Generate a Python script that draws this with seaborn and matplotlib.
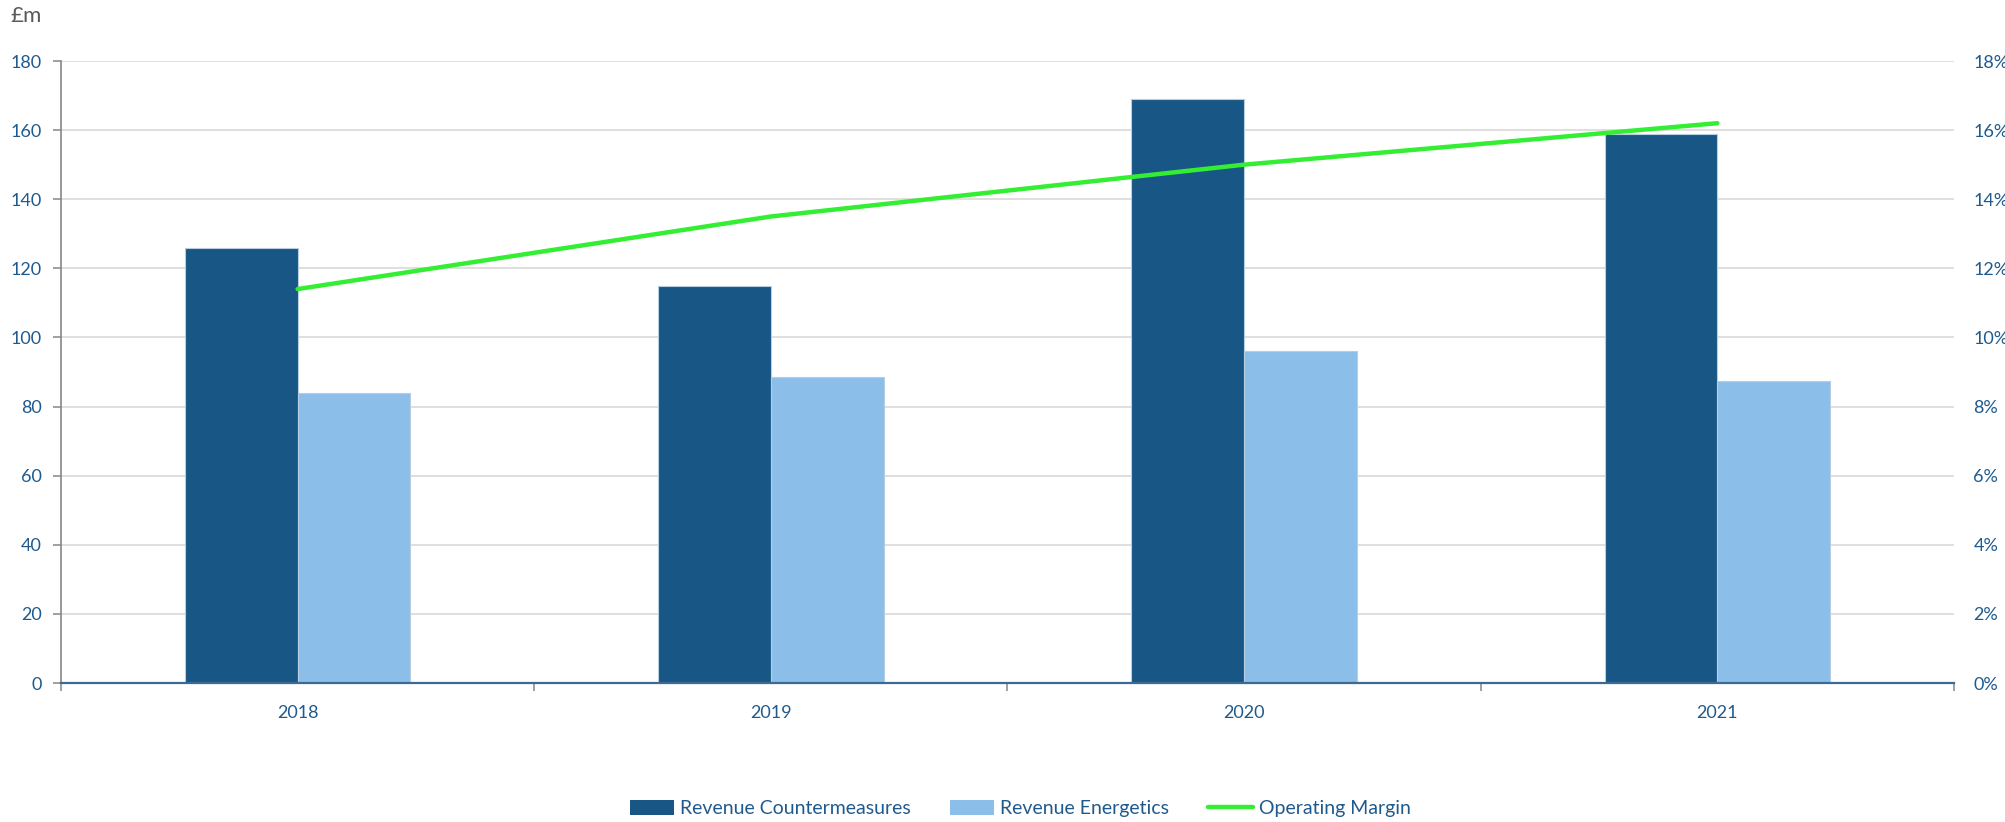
import numpy as np
import pandas as pd
import matplotlib
matplotlib.use('Agg')
import matplotlib.pyplot as plt
import seaborn as sns
from matplotlib.ticker import FixedLocator, FuncFormatter
from matplotlib.patches import Patch
from matplotlib.lines import Line2D

# ---- data ----
years = ['2018', '2019', '2020', '2021']
rev_countermeasures = [126, 115, 169, 159]
rev_energetics = [84, 88.5, 96, 87.5]
operating_margin = [11.4, 13.5, 15.0, 16.2]
series_names = ['Revenue Countermeasures', 'Revenue Energetics']
line_name = 'Operating Margin'
left_ticks = list(range(0, 181, 20))
right_ticks = list(range(0, 19, 2))

# ---- style ----
sns.set_style('white')
plt.rcParams['font.family'] = ['Lato', 'DejaVu Sans']

dark = '#185785'
light = '#8BBFEA'
green = '#33EE33'
txt_blue = '#1F5A8E'
grey = '#868686'

df = pd.DataFrame({
    'Year': years * 2,
    'Revenue': rev_countermeasures + rev_energetics,
    'Series': [series_names[0]] * len(years) + [series_names[1]] * len(years),
})

W, H = 2006, 822
fig = plt.figure(figsize=(W / 100, H / 100), dpi=100)
ax = fig.add_axes([61 / W, 1 - 683 / H, (1954 - 61) / W, (683 - 61) / H])

sns.barplot(data=df, x='Year', y='Revenue', hue='Series',
            palette=[dark, light], saturation=1, width=0.476, gap=0,
            edgecolor='#B7CDE0', linewidth=0.8, ax=ax, legend=False)

ax2 = ax.twinx()
sns.lineplot(x=np.arange(len(years)), y=operating_margin, ax=ax2,
             color=green, lw=3.2, solid_capstyle='round')

ax.set_xlim(-0.5, len(years) - 0.5)
ax.set_ylim(0, 180)
ax.set_yticks(left_ticks)
ax2.set_ylim(0, 18)
ax2.set_yticks(right_ticks)
ax2.yaxis.set_major_formatter(FuncFormatter(lambda v, p: f'{v:.0f}%'))

ax.set_xlabel('')
ax.set_ylabel('')
ax2.set_xlabel('')
ax2.set_ylabel('')

ax.yaxis.grid(True, color='#D9D9D9', lw=1.2)
ax.xaxis.grid(False)
ax.set_axisbelow(True)

for s in ['top', 'right']:
    ax.spines[s].set_visible(False)
ax.spines['left'].set_color(grey)
ax.spines['left'].set_linewidth(1.2)
ax.spines['bottom'].set_color('#3B6A95')
ax.spines['bottom'].set_linewidth(1.6)
for s in ax2.spines.values():
    s.set_visible(False)

ax.tick_params(axis='y', left=True, length=6, width=1.1, color=grey, pad=8,
               labelcolor=txt_blue, labelsize=13)
ax.xaxis.set_minor_locator(FixedLocator([i - 0.5 for i in range(len(years) + 1)]))
ax.tick_params(axis='x', which='major', bottom=True, length=0, pad=16,
               labelcolor=txt_blue, labelsize=13)
ax.tick_params(axis='x', which='minor', bottom=True, length=6, width=1.1,
               color=grey, direction='out')
ax2.tick_params(axis='y', right=True, length=0, pad=14,
                labelcolor=txt_blue, labelsize=13)

fig.text(10 / W, 1 - 16 / H, '£m', color='#595959', fontsize=16,
         ha='left', va='center')

handles = [Patch(facecolor=dark, edgecolor='none'),
           Patch(facecolor=light, edgecolor='none'),
           Line2D([0], [0], color=green, lw=3.2, solid_capstyle='round')]
labels = series_names + [line_name]
fig.legend(handles, labels, loc='center', bbox_to_anchor=(0.5085, 0.016),
           ncol=3, frameon=False, fontsize=14, handlelength=2.3,
           handleheight=0.75, handletextpad=0.3, columnspacing=2.0,
           labelcolor=txt_blue)

fig.savefig('out.png', dpi=100)
